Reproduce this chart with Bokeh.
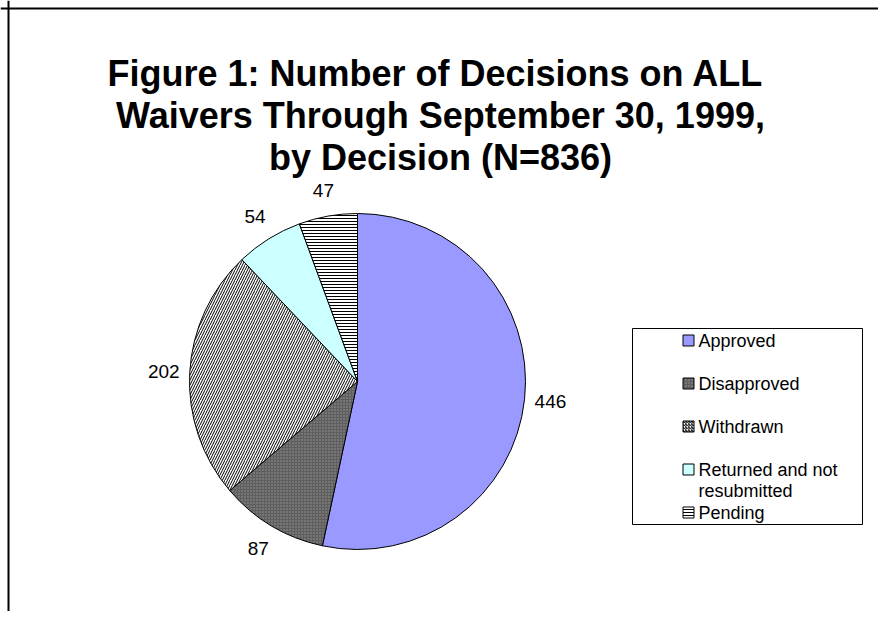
import math
import numpy as np
from bokeh.plotting import figure
from bokeh.models import Range1d, Span, ColumnDataSource
from bokeh.core.properties import value
from bokeh.embed import file_html
from bokeh.resources import INLINE

# ---- data ----
categories = ["Approved", "Disapproved", "Withdrawn", "Returned and not resubmitted", "Pending"]
counts = [446, 87, 202, 54, 47]
legend_labels = ["Approved", "Disapproved", "Withdrawn", "Returned and not\nresubmitted", "Pending"]
title_lines = ["Figure 1:  Number of Decisions on ALL",
               "Waivers Through September 30, 1999,",
               "by Decision (N=836)"]

# ---- styles ----
fill_colors = ["#9999FF", "#5E5E5E", "#FFFFFF", "#CCFFFF", "#FFFFFF"]
hatch_patterns = [" ", "dot", "/", " ", "-"]
hatch_colors = ["#000000", "#9A9A9A", "#000000", "#000000", "#000000"]
hatch_scales = [4, 3, 5, 4, 3]
hatch_weights = [1, 1, 1, 1, 1]

W, H = 878, 611

def sx(x):
    return x

def sy(y):
    return H - y

p = figure(width=W, height=H, x_range=Range1d(0, W), y_range=Range1d(0, H),
           output_backend="svg", toolbar_location=None, min_border=0,
           x_axis_type=None, y_axis_type=None)
p.grid.visible = False
p.outline_line_color = None
p.background_fill_color = "white"
p.border_fill_color = "white"

# frame border (top & left visible)
p.add_layout(Span(location=sx(8), dimension="height", line_color="black", line_width=2))
p.add_layout(Span(location=sy(8), dimension="width", line_color="black", line_width=2))

# ---- pie ----
cx, cy, r = sx(357), sy(381), 168
total = float(sum(counts))
cum = np.cumsum([0] + counts) / total
starts = math.pi / 2 - 2 * math.pi * cum[:-1]
ends = math.pi / 2 - 2 * math.pi * cum[1:]
mids = (starts + ends) / 2

src = ColumnDataSource(dict(
    start=starts, end=ends, fill=fill_colors, hatch=hatch_patterns,
    hcol=hatch_colors, hscale=hatch_scales, hw=hatch_weights, cat=categories))
p.wedge(x=cx, y=cy, radius=r, start_angle="start", end_angle="end", direction="clock",
        fill_color="fill", hatch_pattern="hatch", hatch_color="hcol", hatch_scale="hscale",
        hatch_weight="hw", line_color="black", line_width=1, source=src)

# value labels
R = 194
lx = cx + R * np.cos(mids)
ly = cy + R * np.sin(mids)
p.text(x=lx, y=ly, text=[str(v) for v in counts], text_align="center", text_baseline="middle",
       text_font=value("Liberation Sans"), text_font_size="19px", text_color="black")

# ---- title ----
tx = sx(440)
base0, step = 73, 42
p.text(x=[tx] * len(title_lines), y=[sy(base0 + i * step) for i in range(len(title_lines))],
       text=title_lines, text_align="center", text_baseline="alphabetic",
       text_font=value("Liberation Sans"), text_font_style="bold",
       text_font_size="36px", text_color="black")

# ---- legend ----
box_l, box_t, box_r, box_b = 632, 328, 862, 524
p.quad(left=[sx(box_l)], right=[sx(box_r)], top=[sy(box_t)], bottom=[sy(box_b)],
       fill_color="white", line_color="black", line_width=1)
row0, row_step = 340, 43
rows = [row0 + i * row_step for i in range(len(legend_labels))]
lsrc = ColumnDataSource(dict(
    x=[sx(688)] * len(rows), y=[sy(v) for v in rows], fill=fill_colors, hatch=hatch_patterns,
    hcol=hatch_colors))
p.rect(x="x", y="y", width=11, height=11, fill_color="fill", hatch_pattern="hatch",
       hatch_color="hcol", hatch_scale=3, hatch_weight=1, line_color="black", line_width=1,
       source=lsrc)
p.text(x=[sx(698)] * len(rows), y=[sy(v - 10) for v in rows], text=legend_labels,
       text_align="left", text_baseline="top", text_line_height=1.05,
       text_font=value("Liberation Sans"), text_font_size="18px", text_color="black")

open("out.html", "w").write(file_html(p, INLINE))
